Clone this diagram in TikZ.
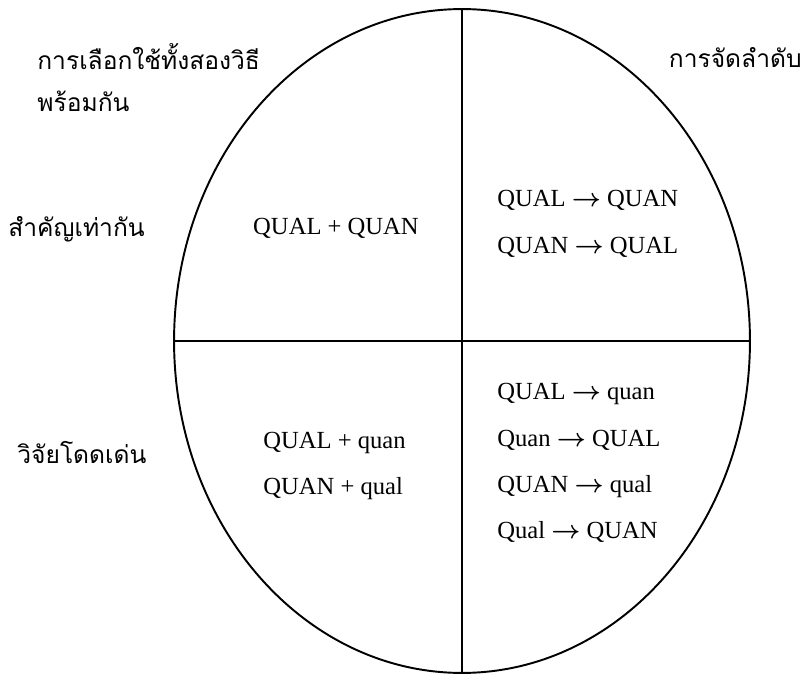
\documentclass[tikz,border=0pt]{standalone}
\usepackage{amsmath}
\usepackage{fontspec}
\setmainfont{Liberation Serif}
\newfontfamily\thaifont[Script=Thai]{Loma}
\newcommand{\arr}{$\boldsymbol{\rightarrow}$}
\begin{document}
\begin{tikzpicture}[x=0.02cm,y=-0.02cm]
\tikzstyle{thai} = [anchor=west,inner sep=0pt,font=\thaifont\fontsize{14}{16}\selectfont]
\tikzstyle{eng} = [anchor=west,inner sep=0pt,font=\fontsize{14}{16}\selectfont]
\tikzstyle{rim} = [line width=1.1pt]
\useasboundingbox (0,0) rectangle (803,675);
% ellipse split in four
\coordinate (c) at (462,341);
\draw[rim] (c) ellipse (5.76cm and 6.64cm);
\coordinate (top) at (462,9);
\coordinate (bot) at (462,673);
\coordinate (lft) at (174,341);
\coordinate (rgt) at (750,341);
\draw[rim] (top) -- (bot);
\draw[rim] (lft) -- (rgt);
% labels outside
\node[thai] (both1) at (37,57) {การเลือกใช้ทั้งสองวิธี};
\node[thai] (both2) at (37,101) {พร้อมกัน};
\node[thai,anchor=east] (seq) at (802,58) {การจัดลำดับ};
\node[thai] (equal) at (8,229) {สำคัญเท่ากัน};
\node[thai] (dom) at (17,452) {วิจัยโดดเด่น};
% quadrants
\node[eng,anchor=center] (q1) at (336,228) {QUAL + QUAN};
\node[eng] (q2a) at (497,200) {QUAL \arr{} QUAN};
\node[eng] (q2b) at (497,247) {QUAN \arr{} QUAL};
\node[eng] (q3a) at (263,443) {QUAL + quan};
\node[eng] (q3b) at (263,489) {QUAN + qual};
\node[eng] (q4a) at (497,394) {QUAL \arr{} quan};
\node[eng] (q4b) at (497,440) {Quan \arr{} QUAL};
\node[eng] (q4c) at (497,487) {QUAN \arr{} qual};
\node[eng] (q4d) at (497,532) {Qual \arr{} QUAN};
\end{tikzpicture}
\end{document}
